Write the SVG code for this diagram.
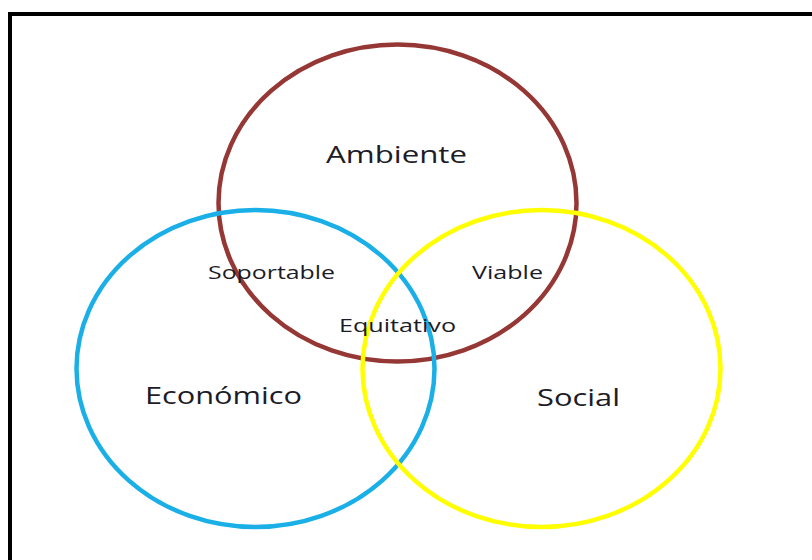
<svg xmlns="http://www.w3.org/2000/svg" width="812" height="560" viewBox="0 0 812 560">
<style>
.c{fill:none;stroke-width:4.5}
.big{font-family:"Open Sans","Liberation Sans",sans-serif;font-size:24px;fill:#1c1c28}
.sm{font-family:"Open Sans","Liberation Sans",sans-serif;font-size:18px;fill:#1c1c28}
</style>
<rect x="0" y="0" width="812" height="560" fill="#fff"/>
<rect x="10" y="14" width="820" height="560" fill="none" stroke="#000" stroke-width="4"/>
<g id="ambiente"><ellipse class="c" cx="397.5" cy="203" rx="179" ry="158.5" stroke="#953735"/></g>
<g id="economico"><ellipse class="c" cx="255.5" cy="368.5" rx="179" ry="158.5" stroke="#1AAFE6"/></g>
<g id="social"><ellipse class="c" cx="541.5" cy="368.5" rx="179" ry="158.5" stroke="#FFFF00"/></g>
<g id="labels">
<text class="big" x="326" y="163" textLength="141" lengthAdjust="spacingAndGlyphs">Ambiente</text>
<text class="big" x="145" y="404" textLength="157" lengthAdjust="spacingAndGlyphs">Económico</text>
<text class="big" x="537" y="406" textLength="83" lengthAdjust="spacingAndGlyphs">Social</text>
<text class="sm" x="208" y="279" textLength="127" lengthAdjust="spacingAndGlyphs">Soportable</text>
<text class="sm" x="472" y="279" textLength="71" lengthAdjust="spacingAndGlyphs">Viable</text>
<text class="sm" x="339" y="332" textLength="117" lengthAdjust="spacingAndGlyphs">Equitativo</text>
</g>
</svg>
